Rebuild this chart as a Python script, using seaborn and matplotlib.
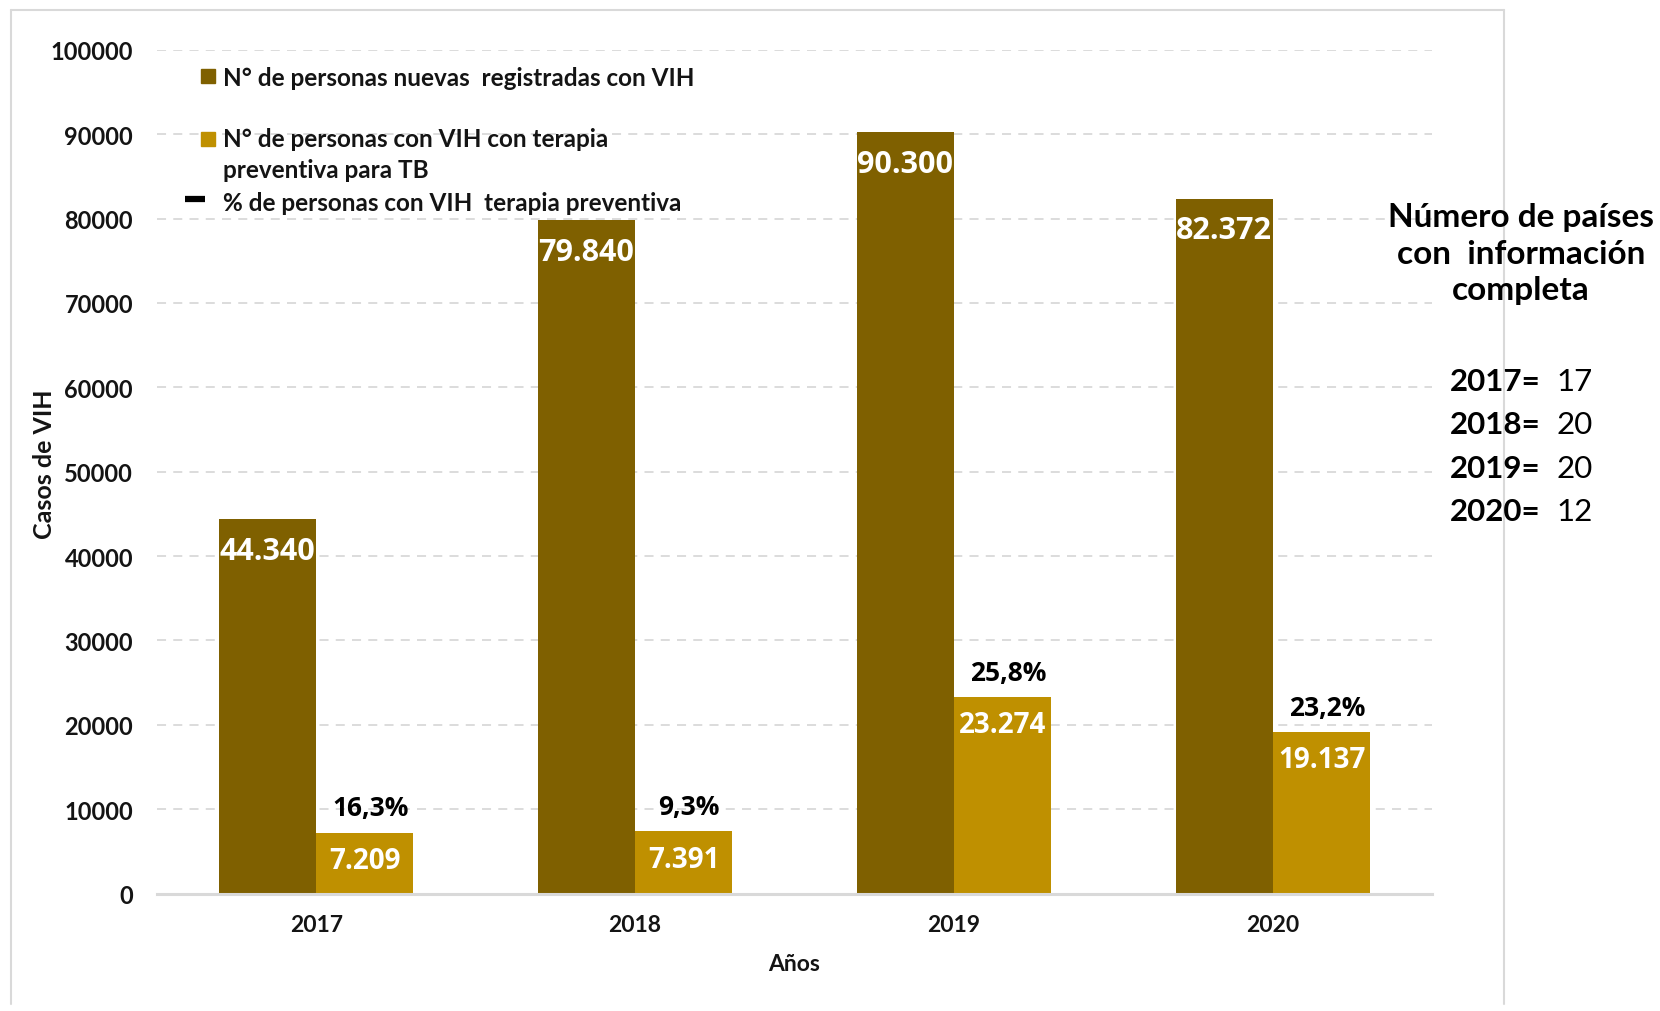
import matplotlib
matplotlib.use("Agg")
import matplotlib.pyplot as plt
from matplotlib.patches import Rectangle
from matplotlib.lines import Line2D
import seaborn as sns
import pandas as pd

# ---- data ----
years = ["2017", "2018", "2019", "2020"]
nuevos_vih = [44340, 79840, 90300, 82372]
terapia_tb = [7209, 7391, 23274, 19137]
pct_terapia = [16.3, 9.3, 25.8, 23.2]
series_names = ["N° de personas nuevas  registradas con VIH",
                "N° de personas con VIH con terapia\npreventiva para TB"]
pct_name = "% de personas con VIH  terapia preventiva"
paises_years = ["2017", "2018", "2019", "2020"]
paises_n = [17, 20, 20, 12]
y_ticks = list(range(0, 100001, 10000))

DARK = "#7F6000"
LIGHT = "#BF9000"
GRID = "#D9D9D9"
TXT = "#141414"

sns.set_theme(style="white")
plt.rcParams["font.family"] = ["Lato", "DejaVu Sans"]
LABEL_FONT = ["Open Sans", "DejaVu Sans"]

df = pd.DataFrame({
    "year": years * 2,
    "value": nuevos_vih + terapia_tb,
    "series": [series_names[0]] * 4 + [series_names[1]] * 4,
})

fig = plt.figure(figsize=(16.6, 10.12), dpi=100)
ax = fig.add_axes([0.0944, 0.116, 0.7685, 0.8338])

sns.barplot(data=df, x="year", y="value", hue="series", palette=[DARK, LIGHT],
            width=0.61, dodge=True, saturation=1, legend=False, ax=ax,
            linewidth=0, errorbar=None)

ax.set_ylim(0, 100000)
ax.set_yticks(y_ticks)
ax.set_yticklabels([str(t) for t in y_ticks])
ax.set_xlim(-0.5, 3.5)
ax.grid(False)
ax.set_axisbelow(True)
for t in y_ticks[1:]:
    ax.axhline(t, color=GRID, lw=1.3, ls=(0, (5, 4)), zorder=0)

for s in ["top", "right", "left"]:
    ax.spines[s].set_visible(False)
ax.spines["bottom"].set_color(GRID)
ax.spines["bottom"].set_linewidth(2.2)
ax.tick_params(axis="both", length=0)
ax.tick_params(axis="y", pad=17, labelsize=17)
ax.tick_params(axis="x", pad=15, labelsize=16.5)
for lab in ax.get_xticklabels() + ax.get_yticklabels():
    lab.set_fontweight("bold")
    lab.set_color(TXT)

ax.set_xlabel("Años", fontsize=16.5, fontweight="bold", color=TXT)
ax.xaxis.set_label_coords(0.4996, -0.070)
ax.set_ylabel("Casos de VIH", fontsize=18, fontweight="bold", color=TXT)
ax.yaxis.set_label_coords(-0.079, 0.51)

def fmt(v):
    return f"{v:,}".replace(",", ".")

# bar labels
dark_bars = ax.containers[0]
light_bars = ax.containers[1]
for bar, v in zip(dark_bars, nuevos_vih):
    cx = bar.get_x() + bar.get_width() / 2
    ax.annotate(fmt(v), (cx, bar.get_height()), xytext=(0, -23),
                textcoords="offset points", ha="center", va="center",
                color="white", fontsize=22, fontweight="bold",
                family=LABEL_FONT)
for bar, v, p in zip(light_bars, terapia_tb, pct_terapia):
    cx = bar.get_x() + bar.get_width() / 2
    ax.annotate(fmt(v), (cx, bar.get_height()), xytext=(0, -20),
                textcoords="offset points", ha="center", va="center",
                color="white", fontsize=20, fontweight="bold",
                family=LABEL_FONT)
    ax.annotate(f"{p:.1f}%".replace(".", ","), (cx, bar.get_height()),
                xytext=(4, 18), textcoords="offset points", ha="center",
                va="center", color="black", fontsize=19, fontweight="bold",
                family=LABEL_FONT)

# legend (manual, Excel-like)
ax.add_patch(Rectangle((0.0349, 0.961), 0.0107, 0.0164, transform=ax.transAxes,
                       color=DARK, clip_on=False))
ax.text(0.0523, 0.9675, series_names[0], transform=ax.transAxes, ha="left",
        va="center", fontsize=17.5, fontweight="bold", color=TXT)
ax.add_patch(Rectangle((0.0349, 0.886), 0.0107, 0.0164, transform=ax.transAxes,
                       color=LIGHT, clip_on=False))
ax.text(0.0523, 0.8765, series_names[1], transform=ax.transAxes, ha="left",
        va="center", fontsize=17.5, fontweight="bold", color=TXT,
        linespacing=1.4)
ax.add_line(Line2D([0.0224, 0.0382], [0.8231, 0.8231], transform=ax.transAxes,
                   color="black", lw=4.5, solid_capstyle="butt"))
ax.text(0.0523, 0.8195, pct_name, transform=ax.transAxes, ha="left",
        va="center", fontsize=17.5, fontweight="bold", color=TXT)

# border of chart area
W, H = 1660, 1012
def fx(px):
    return px / W
def fy(py):
    return 1 - py / H
for xs, ys in [([10.6, 10.6], [11, 1005]), ([10.6, 1504], [11, 11]),
               ([1504, 1504], [11, 1005])]:
    fig.add_artist(Line2D([fx(x) for x in xs], [fy(y) for y in ys],
                          color=GRID, lw=1.5))

# side note
fig.text(fx(1521), fy(254), "Número de países\ncon  información\ncompleta",
         ha="center", va="center", fontsize=24, fontweight="bold",
         color="black", linespacing=1.3)
for i, (yy, n) in enumerate(zip(paises_years, paises_n)):
    ypix = 382 + i * 43.3
    fig.text(fx(1450), fy(ypix), f"{yy}=", ha="left", va="center",
             fontsize=22.5, fontweight="bold", color="black")
    fig.text(fx(1556), fy(ypix), f"{n}", ha="left", va="center",
             fontsize=22.5, color="black")

fig.savefig("out.png", dpi=100, facecolor="white")
